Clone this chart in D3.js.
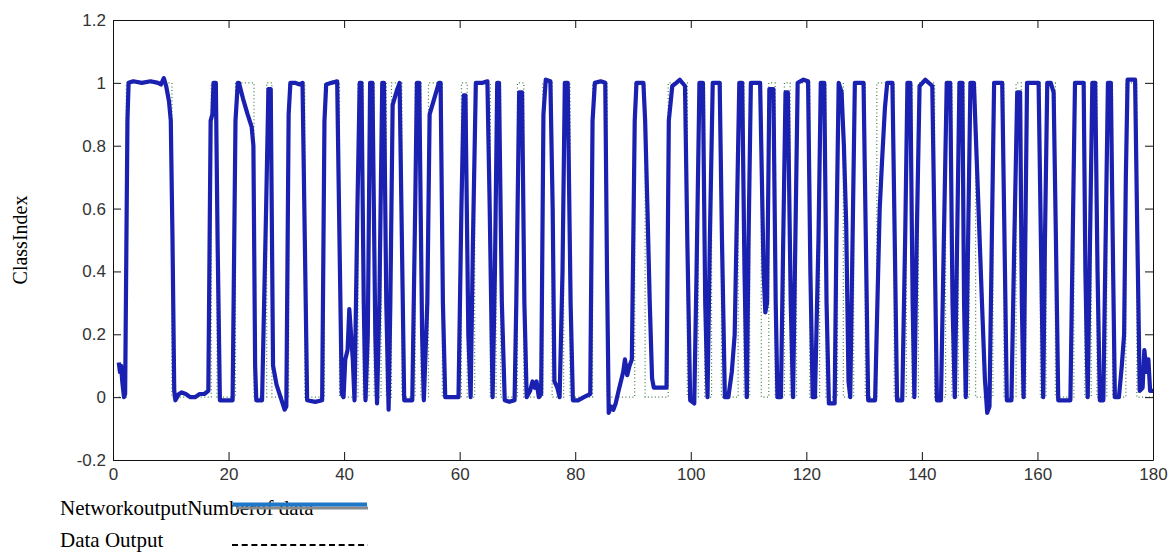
<!DOCTYPE html>
<html>
<head>
<meta charset="utf-8">
<script src="https://cdn.jsdelivr.net/npm/d3@7"></script>
<style>
  body { margin: 0; background: #fff; }
  svg { display: block; }
</style>
</head>
<body>
<svg width="1172" height="552"></svg>
<script>
const width = 1172;
const height = 552;
const margin = {top: 20, right: 16, bottom: 92, left: 113};

const xTicks = [0, 20, 40, 60, 80, 100, 120, 140, 160, 180];
const yTicks = [-0.2, 0, 0.2, 0.4, 0.6, 0.8, 1, 1.2];
const yTickLabels = ["-0.2", "0", "0.2", "0.4", "0.6", "0.8", "1", "1.2"];

// network output as [sample, value]
const networkOutput = [
  [1.0, 0.11], [1.2, 0.08], [1.4, 0.10], [1.6, 0.05], [1.9, 0.0], [2.1, 0.01],
  [2.5, 0.88], [2.7, 1.0], [3.5, 1.005], [5, 1.0], [6.5, 1.005], [7.8, 1.0], [8.3, 0.995], [8.8, 1.015], [9.2, 0.99],
  [9.7, 0.94], [10.0, 0.88], [10.3, 0.5], [10.6, 0.02], [10.8, -0.01], [11.4, 0.01], [11.9, 0.015], [12.6, 0.01],
  [13.4, 0.0], [14.2, 0.0], [15, 0.01], [15.8, 0.01], [16.5, 0.02],
  [16.9, 0.88], [17.2, 0.9], [17.4, 1.0], [17.8, 1.0], [18.1, 0.5], [18.5, -0.01], [19.5, -0.01], [20.7, -0.01],
  [21.2, 0.88], [21.6, 1.0], [21.8, 1.0], [22.5, 0.95], [23.3, 0.9], [24.0, 0.86], [24.3, 0.8], [24.6, 0.1], [24.8, -0.01], [25.8, -0.01],
  [26.5, 0.6], [26.9, 0.98], [27.3, 0.98], [27.7, 0.1], [28.3, 0.04], [29.0, 0.0], [29.7, -0.04], [30.0, -0.03],
  [30.4, 0.9], [30.7, 1.0], [31.5, 1.0], [32.3, 0.995], [32.8, 1.0], [33.2, 0.5], [33.6, -0.01], [35, -0.015], [36.2, -0.01],
  [36.6, 0.88], [36.9, 0.995], [37.8, 1.0], [38.8, 1.005], [39.2, 0.5], [39.6, 0.01], [39.9, 0.0],
  [40.2, 0.12], [40.6, 0.15], [40.9, 0.28], [41.2, 0.2], [41.5, 0.12], [41.8, -0.01],
  [42.3, 0.6], [42.7, 1.0], [43.0, 1.0], [43.4, 0.3], [43.7, -0.01], [44.1, 0.2],
  [44.5, 1.0], [44.9, 1.0], [45.4, 0.2], [45.7, -0.02], [46.1, 0.3],
  [46.6, 1.0], [46.9, 1.0], [47.3, 0.3], [47.7, -0.04], [48.0, 0.3],
  [48.4, 0.93], [49.2, 0.98], [49.6, 1.0], [50.0, 0.5], [50.4, -0.01], [51.2, -0.01], [51.8, -0.01],
  [52.3, 0.6], [52.6, 1.0], [53.0, 1.0], [53.5, 0.2], [53.8, -0.01], [54.4, 0.3],
  [54.8, 0.9], [55.6, 0.95], [56.4, 1.0], [56.7, 1.0], [57.1, 0.3], [57.5, 0.0], [59.8, 0.0],
  [60.3, 0.6], [60.7, 0.96], [61.0, 0.96], [61.5, 0.2], [61.9, 0.0], [62.3, 0.5],
  [62.8, 1.0], [64, 1.0], [64.8, 1.005], [65.2, 0.6], [65.7, 0.0], [66.1, 0.4],
  [66.5, 1.0], [66.8, 1.0], [67.3, 0.3], [67.8, -0.01], [68.6, -0.015], [69.5, -0.01], [69.8, 0.3],
  [70.3, 0.97], [70.8, 0.97], [71.2, 0.3], [71.6, 0.0], [72.2, 0.02], [72.6, 0.05], [73.0, 0.03], [73.3, 0.05], [73.7, 0.0], [74.1, 0.01],
  [74.5, 0.9], [74.9, 1.01], [75.7, 1.005], [76.1, 0.6], [76.4, 0.05], [76.9, 0.03], [77.3, 0.0], [77.8, 0.4],
  [78.2, 1.0], [78.7, 1.0], [79.2, 0.3], [79.6, -0.01], [80.5, -0.01], [81.5, 0.0], [82.6, 0.01],
  [83.0, 0.88], [83.4, 1.0], [84.4, 1.005], [85.2, 1.0], [85.5, 0.4], [85.8, -0.05], [86.2, -0.03], [86.6, -0.04], [87.0, -0.02],
  [87.5, 0.02], [87.9, 0.05], [88.3, 0.08], [88.6, 0.12], [89.0, 0.07], [89.4, 0.10], [89.8, 0.12],
  [90.3, 0.88], [90.6, 1.0], [91.8, 1.0], [92.1, 0.88], [92.5, 0.6], [92.9, 0.3], [93.3, 0.06], [93.6, 0.03], [95.8, 0.03],
  [96.2, 0.88], [96.8, 0.99], [97.5, 1.0], [98.1, 1.01], [99.0, 0.99], [99.4, 0.5], [99.9, -0.01], [100.6, -0.02], [101.0, 0.4],
  [101.5, 1.0], [102.1, 1.0], [102.5, 0.3], [102.9, 0.0], [103.3, 0.5],
  [103.8, 1.0], [105.0, 1.0], [105.4, 0.5], [105.9, 0.0], [106.5, 0.0], [107.1, 0.08], [107.6, 0.2], [108.0, 0.6],
  [108.4, 1.0], [108.9, 1.0], [109.3, 0.4], [109.7, 0.0], [110.0, 0.5],
  [110.4, 1.0], [112.0, 1.0], [112.3, 0.7], [112.6, 0.4], [112.9, 0.27], [113.2, 0.3], [113.6, 0.98], [114.3, 0.98],
  [114.7, 0.3], [115.0, 0.0], [115.6, 0.0], [116.0, 0.5],
  [116.4, 0.97], [116.8, 0.97], [117.3, 0.3], [117.7, 0.0], [118.1, 0.5],
  [118.5, 1.0], [119.5, 1.01], [120.3, 1.005], [120.7, 0.4], [121.1, 0.0], [121.5, 0.0], [122.1, 0.5],
  [122.5, 1.0], [123.1, 1.0], [123.5, 0.3], [123.9, -0.02], [124.9, -0.02], [125.2, 0.5],
  [125.6, 1.0], [126.1, 0.97], [126.5, 0.8], [126.9, 0.55], [127.3, 0.05], [127.6, 0.0], [128.0, 0.5],
  [128.4, 1.0], [129.9, 1.0], [130.3, 0.5], [130.7, -0.01], [131.9, -0.01], [132.3, 0.3], [132.7, 0.6], [133.1, 0.75],
  [133.6, 0.92], [134.0, 1.0], [134.9, 1.0], [135.3, 0.5], [135.7, -0.01], [136.6, -0.01], [137.1, 0.5],
  [137.5, 1.0], [138.0, 1.0], [138.4, 0.3], [138.7, 0.0], [139.1, 0.5],
  [139.6, 0.99], [140.6, 1.01], [141.8, 0.99], [142.2, 0.5], [142.6, -0.01], [143.3, -0.01], [143.8, 0.5],
  [144.3, 1.0], [144.9, 1.0], [145.3, 0.3], [145.7, 0.0], [146.1, 0.5],
  [146.5, 1.0], [147.0, 1.0], [147.3, 0.3], [147.6, 0.0], [148.0, 0.5],
  [148.4, 1.0], [149.0, 1.0], [149.4, 0.8], [149.9, 0.55], [150.4, 0.3], [150.9, 0.06], [151.3, -0.05], [151.7, -0.03], [152.1, 0.5],
  [152.5, 1.0], [153.9, 1.0], [154.3, 0.5], [154.7, -0.01], [155.5, -0.01], [156.0, 0.5],
  [156.5, 0.97], [157.0, 0.97], [157.3, 0.3], [157.6, 0.0], [157.9, 0.5],
  [158.2, 1.0], [159.2, 1.0], [160.2, 1.0], [160.6, 0.5], [161.0, 0.0], [161.3, 0.5],
  [161.7, 1.0], [162.3, 1.0], [162.8, 0.97], [163.2, 0.5], [163.6, -0.01], [165.7, -0.01], [166.1, 0.5],
  [166.5, 1.0], [168.0, 1.0], [168.3, 0.4], [168.7, 0.0], [169.1, 0.5],
  [169.5, 1.0], [170.0, 1.0], [170.4, 0.4], [170.8, -0.01], [171.4, -0.01], [171.8, 0.5],
  [172.2, 1.0], [172.7, 1.0], [173.1, 0.4], [173.4, 0.0], [174.1, 0.0], [174.6, 0.1], [175.0, 0.2], [175.3, 0.7],
  [175.6, 1.01], [176.9, 1.01], [177.3, 0.5], [177.7, 0.02], [178.2, 0.03], [178.5, 0.15], [178.9, 0.08], [179.2, 0.12],
  [179.5, 0.02], [180.0, 0.02]
];

// target class, as [sample where the class starts, class]
const dataOutput = [
  [1, 0], [2.3, 1], [10.2, 0], [17.0, 1], [18.0, 0], [21.2, 1], [24.4, 0], [26.6, 1], [27.5, 0], [30.4, 1],
  [33.2, 0], [36.6, 1], [39.2, 0], [42.4, 1], [43.3, 0], [44.3, 1], [45.2, 0], [46.4, 1], [47.3, 0], [48.2, 1],
  [50.0, 0], [52.3, 1], [53.3, 0], [54.6, 1], [57.0, 0], [60.3, 1], [61.3, 0], [62.6, 1], [65.3, 0], [66.3, 1],
  [67.1, 0], [70.0, 1], [71.1, 0], [74.4, 1], [76.0, 0], [78.0, 1], [79.1, 0], [83.0, 1], [85.5, 0], [90.3, 1],
  [92.1, 0], [96.1, 1], [99.4, 0], [101.3, 1], [102.4, 0], [103.6, 1], [105.3, 0], [108.2, 1], [109.2, 0], [110.2, 1],
  [112.2, 0], [113.5, 1], [114.6, 0], [116.2, 1], [117.2, 0], [118.3, 1], [120.6, 0], [122.3, 1], [123.4, 0], [125.4, 1],
  [126.4, 0], [128.2, 1], [130.2, 0], [132.2, 1], [135.2, 0], [137.3, 1], [138.3, 0], [139.4, 1], [142.2, 0], [144.1, 1],
  [145.2, 0], [146.3, 1], [147.3, 0], [148.2, 1], [149.3, 0], [152.3, 1], [154.2, 0], [156.3, 1], [157.2, 0], [158.0, 1],
  [160.5, 0], [161.5, 1], [163.1, 0], [166.3, 1], [168.2, 0], [169.3, 1], [170.3, 0], [172.0, 1], [173.0, 0], [175.3, 1],
  [177.2, 0], [180, 0]
];

const legendItems = ["NetworkoutputNumberof data", "Data Output"];

const svg = d3.select("svg");

const x = d3.scaleLinear().domain([0, 180]).range([margin.left, width - margin.right - 3]);
const y = d3.scaleLinear().domain([-0.2, 1.2]).range([height - margin.bottom, margin.top]);

// target (dotted), drawn under the network output
svg.append("path")
  .datum(dataOutput)
  .attr("fill", "none")
  .attr("stroke", "#3d7d3d")
  .attr("stroke-width", 1.2)
  .attr("stroke-dasharray", "1,2.5")
  .attr("d", d3.line().x(d => x(d[0])).y(d => y(d[1])).curve(d3.curveStepAfter));

svg.append("path")
  .datum(networkOutput)
  .attr("fill", "none")
  .attr("stroke", "#1a20b0")
  .attr("stroke-width", 4.2)
  .attr("stroke-linejoin", "round")
  .attr("d", d3.line().x(d => x(d[0])).y(d => y(d[1])));

// axes: box with inward ticks on every side
const axisFont = g => g.selectAll("text")
  .attr("font-family", "Liberation Sans, Arial, sans-serif")
  .attr("font-size", 17)
  .attr("fill", "#333");

svg.append("g")
  .attr("transform", `translate(0,${y(-0.2)})`)
  .call(d3.axisBottom(x).tickValues(xTicks).tickSizeInner(-8).tickSizeOuter(0).tickPadding(8))
  .call(axisFont);

svg.append("g")
  .attr("transform", `translate(0,${y(1.2)})`)
  .call(d3.axisTop(x).tickValues(xTicks).tickSizeInner(-8).tickSizeOuter(0).tickFormat(""));

svg.append("g")
  .attr("transform", `translate(${x(0)},0)`)
  .call(d3.axisLeft(y).tickValues(yTicks).tickSizeInner(-8).tickSizeOuter(0).tickPadding(7)
    .tickFormat((d, i) => yTickLabels[i]))
  .call(axisFont);

svg.append("g")
  .attr("transform", `translate(${x(180)},0)`)
  .call(d3.axisRight(y).tickValues(yTicks).tickSizeInner(-8).tickSizeOuter(0).tickFormat(""));

svg.selectAll(".domain, .tick line").attr("stroke", "#111");

svg.append("text")
  .attr("transform", `translate(27,${(y(-0.2) + y(1.2)) / 2}) rotate(-90)`)
  .attr("text-anchor", "middle")
  .attr("font-family", "Liberation Serif, Times New Roman, serif")
  .attr("font-size", 20)
  .text("ClassIndex");

// legend below the plot
const legend = svg.append("g")
  .attr("font-family", "Liberation Serif, Times New Roman, serif")
  .attr("font-size", 21);

legend.append("text").attr("x", 60).attr("y", 515).text(legendItems[0]);
legend.append("line")
  .attr("x1", 236).attr("x2", 368).attr("y1", 508).attr("y2", 508)
  .attr("stroke", "#8a8a8a").attr("stroke-width", 3);
legend.append("line")
  .attr("x1", 233).attr("x2", 367).attr("y1", 504.5).attr("y2", 504.5)
  .attr("stroke", "#1f77c8").attr("stroke-width", 4);

legend.append("text").attr("x", 60).attr("y", 547).text(legendItems[1]);
legend.append("line")
  .attr("x1", 232).attr("x2", 368).attr("y1", 545).attr("y2", 545)
  .attr("stroke", "#000").attr("stroke-width", 2)
  .attr("stroke-dasharray", "6,3.7");
</script>
</body>
</html>
